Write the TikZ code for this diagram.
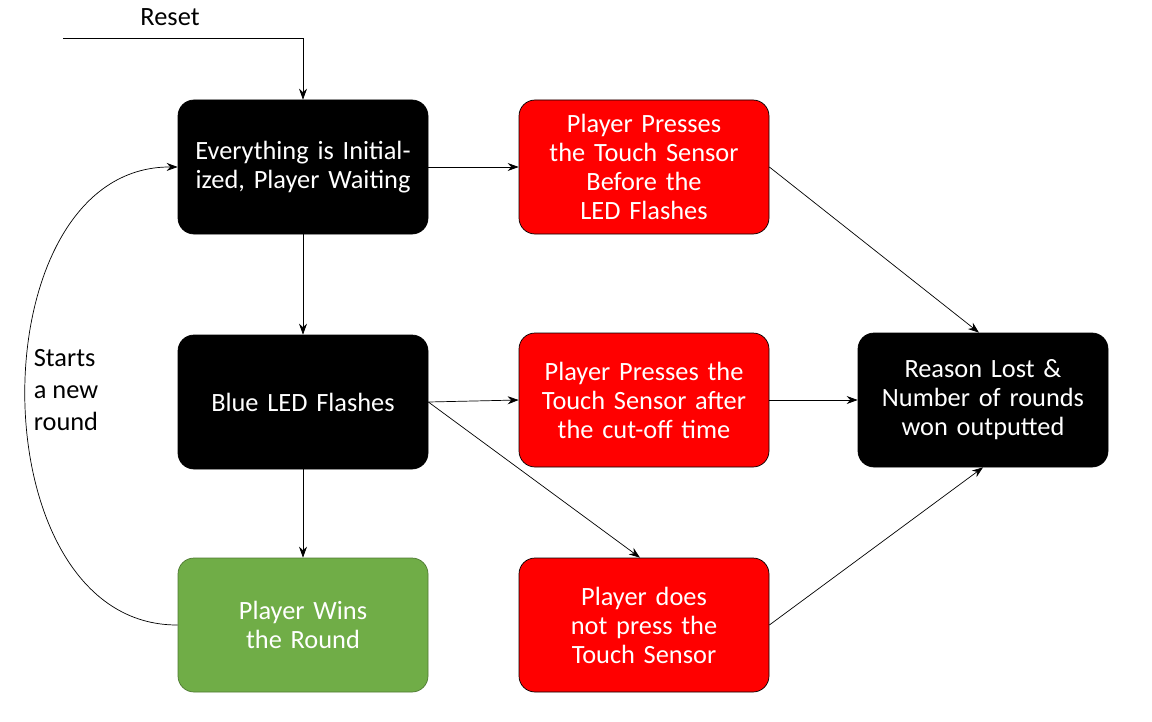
\documentclass[tikz,border=0pt]{standalone}
\usepackage{fontspec}
\setmainfont{Carlito}
\usetikzlibrary{arrows.meta}
\definecolor{lostred}{HTML}{FF0000}
\definecolor{wingreen}{HTML}{70AD47}
\begin{document}
\begin{tikzpicture}[
  box/.style={draw, rounded corners=0.32cm, minimum width=5cm, minimum height=2.68cm, text width=4.4cm, align=center, text=white, font=\fontsize{15}{16.5}\selectfont},
  blackbox/.style={box, fill=black},
  redbox/.style={box, fill=lostred},
  greenbox/.style={box, fill=wingreen, draw=wingreen!70!black},
  arr/.style={-{Stealth[length=2.2mm, width=1.6mm]}}
]
\useasboundingbox (0,0) rectangle (23.04,14.42);
\node[blackbox] (init) at (6.06,11.08) {Everything is Initialized, Player Waiting};
\node[redbox] (early) at (12.88,11.08) {Player Presses the Touch Sensor Before the LED Flashes};
\node[blackbox] (flash) at (6.06,6.38) {Blue LED Flashes};
\node[redbox] (late) at (12.88,6.42) {Player Presses the Touch Sensor after the cut-off time};
\node[blackbox] (out) at (19.66,6.42) {Reason Lost \& Number of rounds won outputted};
\node[greenbox] (win) at (6.06,1.92) {Player Wins the Round};
\node[redbox] (none) at (12.88,1.92) {Player does not press the Touch Sensor};
\node[font=\fontsize{15}{18}\selectfont] (reset) at (3.4,14.08) {Reset};
\node[font=\fontsize{15}{18}\selectfont, align=left] (newround) at (1.32,6.62) {Starts\\a new\\round};
\coordinate (resetin) at (1.26,13.66);
\draw[arr] (resetin) -| (init.north);
\draw[arr] (init) -- (early);
\draw[arr] (init) -- (flash);
\draw[arr] (flash) -- (win);
\draw[arr] (flash.east) -- (late.west);
\draw[arr] (flash.east) -- ([xshift=-0.08cm]none.north);
\draw[arr] (early.east) -- ([xshift=-0.08cm]out.north);
\draw[arr] (late) -- (out);
\draw[arr] (none.east) -- (out.south);
\draw[arr] (win.west) .. controls (-0.5,1.9) and (-0.5,11.1) .. (init.west);
\end{tikzpicture}
\end{document}
